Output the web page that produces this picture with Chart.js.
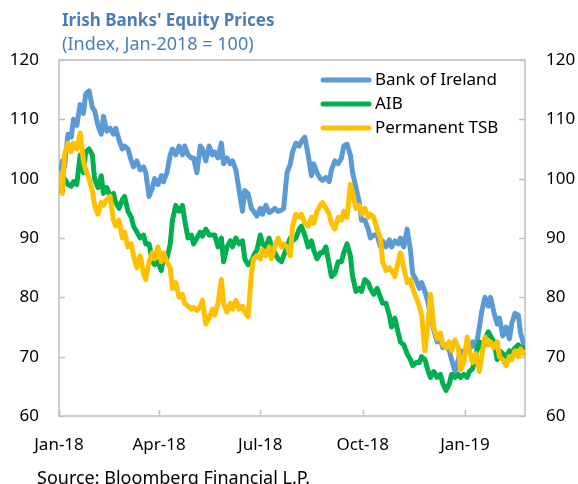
<!DOCTYPE html>
<html lang="en">
<head>
    <meta charset="UTF-8">
    <title>Irish Banks' Equity Prices</title>
    <style>
        body { margin: 0; background: #fff; }
        .wrap { position: relative; width: 578px; height: 484px; overflow: hidden; font-family: "Noto Sans", sans-serif; }
        .titulo { position: absolute; left: 62px; top: 10px; font-size: 17px; font-weight: bold; color: #4A7EBB; line-height: 20px; white-space: nowrap; }
        .subtitulo { position: absolute; left: 62px; top: 32px; font-size: 18px; color: #4A7EBB; line-height: 22px; white-space: nowrap; }
        .fuente { position: absolute; left: 37px; top: 466px; font-size: 18px; color: #000; line-height: 22px; white-space: nowrap; }
        canvas { position: absolute; left: 0; top: 0; }
    </style>
</head>
<body>
<div class="wrap">
    <canvas id="grafico" width="578" height="484"></canvas>
    <div class="titulo">Irish Banks' Equity Prices</div>
    <div class="subtitulo">(Index, Jan-2018 = 100)</div>
    <div class="fuente">Source: Bloomberg Financial L.P.</div>
</div>

<script src="https://cdn.jsdelivr.net/npm/chart.js"></script>
<script>
    // days since 1 Jan 2018
    const dias = [
        0, 3, 5, 8, 11, 13, 16, 19, 22, 24, 27, 30, 32, 35, 38, 40, 43, 46, 49, 51,
        54, 57, 59, 62, 65, 67, 70, 73, 76, 78, 81, 84, 86, 89, 92, 94, 97, 100, 102, 105,
        108, 111, 113, 116, 119, 121, 124, 127, 129, 132, 135, 138, 140, 143, 146, 148, 151, 154, 156, 159,
        162, 165, 167, 170, 173, 175, 178, 181, 183, 186, 189, 191, 194, 197, 200, 202, 205, 208, 210, 213,
        216, 218, 221, 224, 227, 229, 232, 235, 237, 240, 243, 245, 248, 251, 254, 256, 259, 262, 264, 267,
        270, 272, 275, 278, 280, 283, 286, 289, 291, 294, 297, 299, 302, 305, 307, 310, 313, 316, 318, 321,
        324, 326, 329, 332, 334, 337, 340, 343, 345, 348, 351, 353, 356, 359, 361, 364, 367, 369, 372, 375,
        378, 380, 383, 386, 388, 391, 394, 396, 399, 402, 405, 407, 410, 413, 415, 418
    ];

    const bancoIrlanda = [
        98, 103, 102, 107.5, 107, 110, 109, 112.5, 111, 114.3, 114.8, 112, 111.5, 109, 107.5, 110.5, 108, 108.5, 107.5, 108.5,
        106.5, 105, 105.5, 105, 103, 102, 103, 101.5, 102, 101, 97, 98.5, 100, 99, 100.5, 99.5, 101, 104, 105, 104,
        105.5, 104, 105.5, 104, 103.5, 103.5, 101, 105.5, 105, 103, 105.5, 104, 104.5, 103.5, 106, 102.5, 103.5, 102.5, 103, 101.5,
        98, 94.5, 98, 97.5, 95, 94.5, 93.7, 95, 94, 95.5, 94.3, 94.5, 95, 94.5, 94.7, 95, 101, 102.5, 104.5, 106,
        105.5, 106.3, 107, 104, 100.5, 102.5, 101, 100, 99.7, 100.2, 99.5, 101.5, 103, 102.5, 103.5, 105.5, 105.8, 104, 101, 98.5,
        96, 93, 93, 91.5, 90, 90.5, 90.5, 88.5, 89.5, 88.5, 89.7, 88.5, 89.5, 89, 90, 88.5, 91.5, 88, 84, 83,
        81.5, 82.5, 81, 79, 77, 74.5, 72.5, 73, 71.5, 72, 71, 69.5, 67.5, 69.5, 71, 70.5, 72, 71, 72.5, 71.5,
        75, 77.5, 80, 78.5, 80, 77.5, 75.5, 76.5, 73.5, 75, 73, 75.5, 77.3, 77, 74, 72
    ];

    const aib = [
        101, 99, 100, 99, 98.7, 99.5, 99, 104, 101, 104.5, 105, 104, 100, 98.5, 100.5, 97.5, 98.5, 97, 97.5, 96,
        95, 96.5, 97, 94.5, 93.5, 92, 91, 90, 90.5, 89, 89, 86, 85.5, 86, 84.5, 87, 86.5, 89, 93, 95.5,
        94.5, 95.5, 93, 90, 90.5, 89, 90, 91, 90.3, 91.5, 90.5, 90.5, 90.5, 88.5, 90, 86, 88.5, 89.5, 88.5, 90,
        89, 89.5, 86.5, 85.5, 86, 87, 88, 90.5, 89, 88.5, 90, 88.5, 87.5, 86.5, 86, 87, 88.5, 90, 89.5, 90,
        91.5, 92, 90.5, 88.5, 89.5, 88, 86.5, 87.5, 87.5, 88.5, 85.5, 83.5, 84, 86, 86, 87.5, 89, 87, 83.5, 81,
        81.5, 81, 83, 82.5, 81.5, 80.5, 81.5, 80, 79, 79, 77, 75, 76.5, 74, 72.5, 72, 70.5, 69.5, 68.5, 69,
        69, 70, 69.5, 67.5, 66.5, 67.5, 66.5, 67, 65.5, 64.3, 65.5, 67, 66.5, 67, 66.5, 67, 66.5, 67.5, 68, 70.5,
        72.5, 71.5, 73, 74.2, 73.5, 72.5, 69.5, 71, 70.5, 70, 71, 70.5, 71.5, 72, 71.5, 71.5
    ];

    const ptsb = [
        101, 97.5, 104, 106, 104.5, 106, 105, 107.7, 103, 101.5, 100, 98, 95.5, 94, 96, 95.5, 96.5, 97, 93, 92,
        93, 90, 91, 88.5, 89, 87, 85, 87, 84, 83, 86, 87.5, 86.5, 88.5, 86, 87.5, 86, 85, 81.5, 82.5,
        80, 80.5, 79, 78.5, 78, 78.3, 77.8, 78.5, 79.5, 75.5, 76.5, 78, 77, 79, 83, 79, 77.5, 79, 78, 79.5,
        78, 78.5, 77.5, 76.7, 84, 86.5, 87, 86.5, 88, 87, 88.5, 86.5, 88.5, 90, 88.5, 89, 88.5, 87, 92, 94,
        93.5, 94, 92.5, 92, 93.5, 92.5, 94.5, 95.5, 96, 95, 94, 92.5, 91.5, 93.5, 93, 94.5, 93.5, 99, 97.5, 95,
        95.5, 94, 95, 93.5, 94, 93.5, 91.5, 90, 86, 84.5, 85, 84.5, 83.5, 86, 87.5, 85, 82.5, 83, 81.5, 80,
        78.5, 77, 71, 76, 80.5, 75, 73, 74, 72, 71.5, 72.5, 71, 72.8, 71.5, 67.8, 69, 73.3, 71, 69, 70.5,
        67.5, 70, 73.3, 72, 72.5, 71.5, 72.5, 70, 69.5, 68.5, 70, 69.5, 71, 70, 71.3, 70.5
    ];

    const nombres = ['Bank of Ireland', 'AIB', 'Permanent TSB'];
    const colores = ['#5B9BD5', '#00B050', '#FFC000'];

    const marcasX = [0, 90, 181, 273, 365];
    const etiquetasX = ['Jan-18', 'Apr-18', 'Jul-18', 'Oct-18', 'Jan-19'];
    const marcasY = [60, 70, 80, 90, 100, 110, 120];

    const fuenteTexto = { family: '"Noto Sans", sans-serif', size: 17 };

    function puntos(valores) {
        return dias.map((d, i) => ({ x: d, y: valores[i] }));
    }

    // box round the plot area plus small inward tick marks
    const marcoPlugin = {
        id: 'marco',
        beforeDatasetsDraw(chart) {
            const { ctx, chartArea: a, scales } = chart;
            ctx.save();
            ctx.strokeStyle = '#BFBFBF';
            ctx.lineWidth = 1.5;
            ctx.strokeRect(a.left, a.top, a.right - a.left, a.bottom - a.top);
            ctx.beginPath();
            marcasX.forEach(v => {
                const x = Math.round(scales.x.getPixelForValue(v)) + 0.5;
                ctx.moveTo(x, a.bottom);
                ctx.lineTo(x, a.bottom - 6);
            });
            marcasY.forEach(v => {
                const y = Math.round(scales.y.getPixelForValue(v)) + 0.5;
                ctx.moveTo(a.left, y);
                ctx.lineTo(a.left + 6, y);
                ctx.moveTo(a.right, y);
                ctx.lineTo(a.right - 6, y);
            });
            ctx.stroke();
            ctx.restore();
        }
    };

    // legend drawn inside the plot, top right
    const leyendaPlugin = {
        id: 'leyenda',
        afterDraw(chart) {
            const { ctx } = chart;
            ctx.save();
            ctx.font = '17px "Noto Sans", sans-serif';
            ctx.textBaseline = 'middle';
            ctx.lineCap = 'round';
            nombres.forEach((n, i) => {
                const y = 80 + i * 24;
                ctx.strokeStyle = colores[i];
                ctx.lineWidth = 5;
                ctx.beginPath();
                ctx.moveTo(323, y);
                ctx.lineTo(369, y);
                ctx.stroke();
                ctx.fillStyle = '#000';
                ctx.fillText(n, 375, y);
            });
            ctx.restore();
        }
    };

    const series = [bancoIrlanda, aib, ptsb];

    new Chart(document.getElementById('grafico').getContext('2d'), {
        type: 'line',
        data: {
            datasets: series.map((s, i) => ({
                label: nombres[i],
                data: puntos(s),
                borderColor: colores[i],
                borderWidth: 5,
                pointRadius: 0,
                tension: 0,
                borderJoinStyle: 'round',
                borderCapStyle: 'round',
                order: 3 - i
            }))
        },
        options: {
            responsive: false,
            devicePixelRatio: 1,
            animation: false,
            layout: { padding: { top: 60, left: 0, right: 0, bottom: 0 } },
            plugins: {
                legend: { display: false },
                tooltip: { enabled: false }
            },
            scales: {
                x: {
                    type: 'linear',
                    min: 0,
                    max: 419,
                    grid: { display: false },
                    border: { display: false },
                    afterBuildTicks: s => { s.ticks = marcasX.map(v => ({ value: v })); },
                    afterFit: s => { s.height = 68; },
                    ticks: {
                        autoSkip: false,
                        maxRotation: 0,
                        padding: 11,
                        color: '#000',
                        font: fuenteTexto,
                        callback: v => etiquetasX[marcasX.indexOf(v)]
                    }
                },
                y: {
                    position: 'left',
                    min: 60,
                    max: 120,
                    grid: { display: false },
                    border: { display: false },
                    afterFit: s => { s.width = 59; },
                    ticks: { stepSize: 10, padding: 12, color: '#000', font: fuenteTexto }
                },
                y2: {
                    position: 'right',
                    min: 60,
                    max: 120,
                    grid: { display: false },
                    border: { display: false },
                    afterFit: s => { s.width = 53; },
                    ticks: { stepSize: 10, padding: 13, color: '#000', font: fuenteTexto }
                }
            }
        },
        plugins: [marcoPlugin, leyendaPlugin]
    });
</script>
</body>
</html>
